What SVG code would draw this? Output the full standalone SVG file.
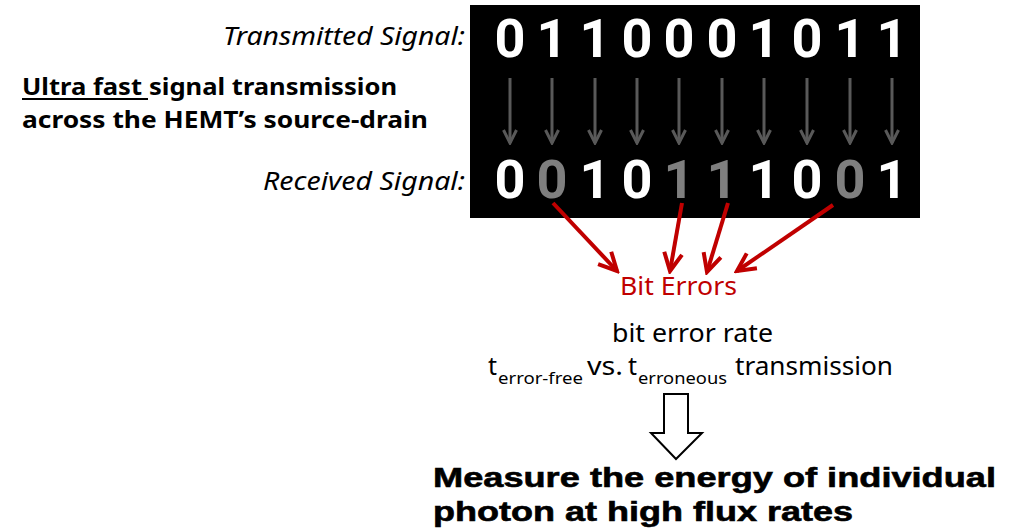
<svg xmlns="http://www.w3.org/2000/svg" width="1017" height="530" viewBox="0 0 1017 530">
  <defs>
    <marker id="redhead" viewBox="0 0 24 24" refX="21" refY="12" markerWidth="24" markerHeight="24" markerUnits="userSpaceOnUse" orient="auto">
      <path d="M3,3 L21,12 L3,21" fill="none" stroke="#c00000" stroke-width="4" stroke-linejoin="miter"/>
    </marker>
    <marker id="grayhead" viewBox="0 0 16 16" refX="14" refY="8" markerWidth="16" markerHeight="16" markerUnits="userSpaceOnUse" orient="auto">
      <path d="M1,1.5 L14,8 L1,14.5" fill="none" stroke="#595959" stroke-width="3"/>
    </marker>
  </defs>
  <style>
    .digit { font-family: Roboto, "DejaVu Sans", sans-serif; font-weight: bold; font-size: 54px; text-anchor: middle; fill: #ffffff; }
    .err { fill: #7f7f7f; }
    .lbl { font-family: "Noto Sans", "Open Sans", sans-serif; font-style: italic; font-size: 25px; fill: #000; }
    .bold { font-family: "Noto Sans", "Open Sans", sans-serif; font-weight: bold; font-size: 23px; fill: #000; }
    .body { font-family: "Noto Sans", "Open Sans", sans-serif; font-size: 25px; fill: #000; }
    .sub { font-family: "Noto Sans", "Open Sans", sans-serif; font-size: 17px; fill: #000; }
    .big { font-family: "Liberation Sans", Arial, sans-serif; font-weight: bold; font-size: 28px; fill: #000; stroke: #000; stroke-width: 0.6px; }
    .gray { stroke: #595959; stroke-width: 3; fill: none; }
    .red { stroke: #c00000; stroke-width: 4; fill: none; }
  </style>
  <rect width="1017" height="530" fill="#ffffff"/>

  <g id="signal-box">
    <rect x="470" y="5" width="450" height="213" fill="#000000"/>
    <g id="transmitted">
      <text class="digit" x="510" y="57">0</text>
      <text class="digit" x="552" y="57">1</text>
      <text class="digit" x="595" y="57">1</text>
      <text class="digit" x="637" y="57">0</text>
      <text class="digit" x="679" y="57">0</text>
      <text class="digit" x="722" y="57">0</text>
      <text class="digit" x="764" y="57">1</text>
      <text class="digit" x="807" y="57">0</text>
      <text class="digit" x="850" y="57">1</text>
      <text class="digit" x="892" y="57">1</text>
    </g>
    <g id="received">
      <text class="digit" x="510" y="198">0</text>
      <text class="digit err" x="552" y="198">0</text>
      <text class="digit" x="595" y="198">1</text>
      <text class="digit" x="637" y="198">0</text>
      <text class="digit err" x="679" y="198">1</text>
      <text class="digit err" x="722" y="198">1</text>
      <text class="digit" x="764" y="198">1</text>
      <text class="digit" x="807" y="198">0</text>
      <text class="digit err" x="850" y="198">0</text>
      <text class="digit" x="892" y="198">1</text>
    </g>
  </g>

  <g id="label-transmitted">
    <text class="lbl" x="223" y="45" textLength="242" lengthAdjust="spacingAndGlyphs">Transmitted Signal:</text>
  </g>
  <g id="label-received">
    <text class="lbl" x="263" y="190" textLength="202" lengthAdjust="spacingAndGlyphs">Received Signal:</text>
  </g>

  <g id="heading">
    <text class="bold" x="22" y="95" textLength="120" lengthAdjust="spacingAndGlyphs">Ultra fast</text>
    <line x1="22" y1="99" x2="148" y2="99" stroke="#000" stroke-width="2"/>
    <text class="bold" x="149" y="95" textLength="248" lengthAdjust="spacingAndGlyphs">signal transmission</text>
    <text class="bold" x="22" y="128" textLength="406" lengthAdjust="spacingAndGlyphs">across the HEMT’s source-drain</text>
  </g>

  <g id="bit-errors">
    <text class="body" x="620" y="295" style="fill:#c00000" textLength="117" lengthAdjust="spacingAndGlyphs">Bit Errors</text>
  </g>

  <g id="ber">
    <text class="body" x="612" y="342" textLength="161" lengthAdjust="spacingAndGlyphs">bit error rate</text>
    <text class="body" x="488" y="375">t</text>
    <text class="sub" x="498" y="384" textLength="85" lengthAdjust="spacingAndGlyphs">error-free</text>
    <text class="body" x="587" y="375" textLength="36" lengthAdjust="spacingAndGlyphs">vs.</text>
    <text class="body" x="628" y="375">t</text>
    <text class="sub" x="638" y="384" textLength="89" lengthAdjust="spacingAndGlyphs">erroneous</text>
    <text class="body" x="735" y="375" textLength="158" lengthAdjust="spacingAndGlyphs">transmission</text>
  </g>

  <g id="conclusion">
    <text class="big" x="433" y="487" textLength="563" lengthAdjust="spacingAndGlyphs">Measure the energy of individual</text>
    <text class="big" x="433" y="521" textLength="420" lengthAdjust="spacingAndGlyphs">photon at high flux rates</text>
  </g>

  <g id="connectors">
    <g id="gray-arrows">
      <line class="gray" x1="510" y1="78" x2="510" y2="143" marker-end="url(#grayhead)"/>
      <line class="gray" x1="552" y1="78" x2="552" y2="143" marker-end="url(#grayhead)"/>
      <line class="gray" x1="595" y1="78" x2="595" y2="143" marker-end="url(#grayhead)"/>
      <line class="gray" x1="637" y1="78" x2="637" y2="143" marker-end="url(#grayhead)"/>
      <line class="gray" x1="679" y1="78" x2="679" y2="143" marker-end="url(#grayhead)"/>
      <line class="gray" x1="722" y1="78" x2="722" y2="143" marker-end="url(#grayhead)"/>
      <line class="gray" x1="764" y1="78" x2="764" y2="143" marker-end="url(#grayhead)"/>
      <line class="gray" x1="807" y1="78" x2="807" y2="143" marker-end="url(#grayhead)"/>
      <line class="gray" x1="850" y1="78" x2="850" y2="143" marker-end="url(#grayhead)"/>
      <line class="gray" x1="892" y1="78" x2="892" y2="143" marker-end="url(#grayhead)"/>
    </g>
    <g id="red-arrows">
      <line class="red" x1="553" y1="203" x2="617" y2="271" marker-end="url(#redhead)"/>
      <line class="red" x1="682" y1="203" x2="670" y2="271" marker-end="url(#redhead)"/>
      <line class="red" x1="728" y1="203" x2="707" y2="272" marker-end="url(#redhead)"/>
      <line class="red" x1="833" y1="205" x2="737" y2="271" marker-end="url(#redhead)"/>
    </g>
    <path id="hollow-arrow" d="M664,394 L688,394 L688,433 L702,433 L676,459 L651,433 L664,433 Z" fill="#ffffff" stroke="#000000" stroke-width="2" stroke-linejoin="miter"/>
  </g>
</svg>
